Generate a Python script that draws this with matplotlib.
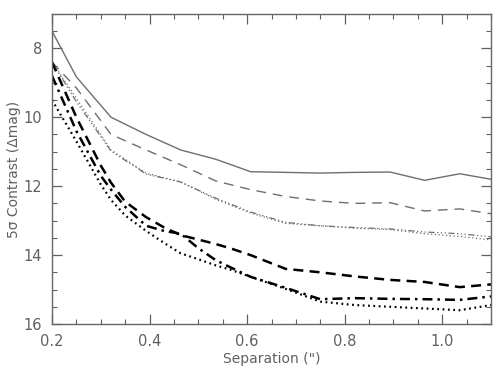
import matplotlib
matplotlib.use("Agg")
import matplotlib.pyplot as plt
from matplotlib.ticker import MultipleLocator

# Separation grid (arcsec)
sep = [0.2, 0.25, 0.321, 0.393, 0.464, 0.536, 0.607, 0.679, 0.75, 0.821, 0.893, 0.964, 1.036, 1.1]

# Thin gray curves
gray_solid = [7.5, 8.83, 10.0, 10.5, 10.95, 11.22, 11.58, 11.6, 11.62, 11.6, 11.59, 11.83, 11.64, 11.8]
gray_dashed = [8.4, 9.15, 10.5, 10.95, 11.38, 11.85, 12.1, 12.3, 12.43, 12.5, 12.48, 12.72, 12.66, 12.8]
gray_dashdot = [8.4, 9.55, 10.98, 11.65, 11.88, 12.35, 12.75, 13.05, 13.15, 13.2, 13.24, 13.33, 13.38, 13.47]
gray_dotted = [8.4, 9.45, 10.95, 11.62, 11.88, 12.38, 12.78, 13.08, 13.15, 13.22, 13.26, 13.38, 13.46, 13.56]

# Thick black curves (denser sampling)
sep_k = [0.2, 0.25, 0.3, 0.321, 0.35, 0.393, 0.43, 0.464, 0.5, 0.536, 0.565, 0.607, 0.679, 0.75, 0.821, 0.893, 0.964, 1.036, 1.1]
black_dashed = [8.4, 10.0, 11.4, 11.9, 12.45, 12.9, 13.2, 13.42, 13.55, 13.68, 13.8, 14.0, 14.4, 14.5, 14.62, 14.72, 14.78, 14.93, 14.85]
black_dashdot = [8.8, 10.4, 11.7, 12.1, 12.6, 13.15, 13.3, 13.38, 13.8, 14.15, 14.35, 14.63, 14.95, 15.28, 15.25, 15.27, 15.28, 15.3, 15.2]
black_dotted = [9.5, 10.7, 11.95, 12.4, 12.85, 13.3, 13.65, 13.95, 14.12, 14.3, 14.42, 14.63, 14.98, 15.35, 15.45, 15.5, 15.55, 15.6, 15.45]

text_color = "#606060"
gray = "#6e6e6e"

fig = plt.figure(figsize=(5, 3.75), dpi=100)
ax = fig.add_axes([0.104, 0.136, 0.878, 0.827])

ax.plot(sep, gray_solid, color=gray, lw=1.0, ls="-")
ax.plot(sep, gray_dashed, color=gray, lw=1.0, ls=(0, (7, 5)))
ax.plot(sep, gray_dashdot, color=gray, lw=0.9, ls=(0, (5, 2, 1, 2, 1, 2, 1, 2)))
ax.plot(sep, gray_dotted, color=gray, lw=0.9, ls=(0, (1, 2)))

ax.plot(sep_k, black_dashed, color="black", lw=1.8, ls=(0, (4, 2.5)))
ax.plot(sep_k, black_dashdot, color="black", lw=1.8, ls=(0, (4, 2, 1, 2)))
ax.plot(sep_k, black_dotted, color="black", lw=1.6, ls=(0, (0.8, 1.6)))

ax.set_xlim(0.2, 1.1)
ax.set_ylim(16, 7)
ax.xaxis.set_major_locator(MultipleLocator(0.2))
ax.xaxis.set_minor_locator(MultipleLocator(0.05))
ax.yaxis.set_major_locator(MultipleLocator(2))
ax.yaxis.set_minor_locator(MultipleLocator(0.5))
ax.xaxis.set_major_formatter(plt.FuncFormatter(lambda v, p: f"{v:.1f}"))
ax.yaxis.set_major_formatter(plt.FuncFormatter(lambda v, p: f"{v:.0f}"))

ax.tick_params(which="both", direction="in", top=True, right=True,
               colors=text_color, labelsize=10.5, pad=7)
ax.tick_params(which="major", length=7, width=0.9)
ax.tick_params(which="minor", length=3.5, width=0.8)
for spine in ax.spines.values():
    spine.set_color("#666666")
    spine.set_linewidth(1.0)

ax.set_xlabel("Separation (\")", color=text_color, fontsize=10, labelpad=2)
ax.set_ylabel("5σ Contrast (Δmag)", color=text_color, fontsize=10)
ax.yaxis.set_label_coords(-0.07, 0.5)

fig.savefig("out.png", dpi=100)
